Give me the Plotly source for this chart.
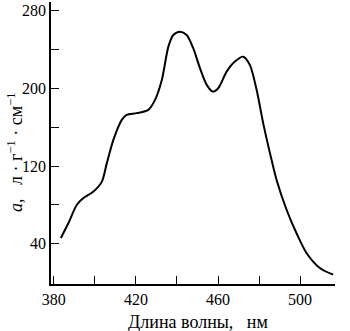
import plotly.graph_objects as go

# Wavelength (nm) and absorptivity a (l·g^-1·cm^-1)
wavelength = [383.4, 387.1, 391.2, 394.4, 399.3, 403.4, 405.8, 409.0, 413.1, 415.5,
              420.4, 426.0, 429.3, 432.6, 435.8, 438.2, 441.5, 444.7, 447.9, 451.2,
              454.5, 457.4, 460.1, 464.2, 468.2, 472.3, 475.5, 478.8, 482.0, 485.3,
              488.5, 493.4, 498.2, 503.1, 509.6, 516.1]
absorptivity = [45.9, 61.3, 80.1, 87.0, 93.8, 104.0, 123.0, 147.0, 167.6, 172.7,
                174.5, 177.9, 188.2, 208.7, 243.0, 255.0, 258.4, 255.0, 241.4, 220.8,
                203.6, 196.7, 200.2, 217.3, 227.6, 232.7, 224.2, 198.5, 164.2, 133.3,
                105.9, 75.0, 51.0, 30.5, 15.0, 8.1]

x_tickvals = [380, 420, 460, 500]
x_minorvals = [400, 440, 480]
y_tickvals = [40, 120, 200, 280]
y_minorvals = [80, 160, 240]

FONT = "Liberation Serif"
NB = "\u00a0"

fig = go.Figure()
fig.add_trace(go.Scatter(
    x=wavelength, y=absorptivity, mode="lines",
    line=dict(color="black", width=2, shape="spline", smoothing=0.8),
    hoverinfo="skip", showlegend=False,
))

axis_common = dict(
    showgrid=False, zeroline=False, showline=True, linecolor="black", linewidth=1.5,
    ticks="inside", ticklen=8, tickwidth=1.2, tickcolor="black",
    tickfont=dict(family=FONT, size=16, color="black"),
    mirror=False,
)

fig.update_layout(
    width=350, height=331,
    margin=dict(l=51, r=15, t=2, b=47),
    paper_bgcolor="white", plot_bgcolor="white",
    xaxis=dict(range=[378.6, 517], tickmode="array", tickvals=x_tickvals,
               minor=dict(tickmode="array", tickvals=x_minorvals, ticks="inside",
                          ticklen=8, tickwidth=1.2, tickcolor="black", showgrid=False),
               **axis_common),
    yaxis=dict(range=[-1.5, 289], tickmode="array", tickvals=y_tickvals,
               minor=dict(tickmode="array", tickvals=y_minorvals, ticks="inside",
                          ticklen=8, tickwidth=1.2, tickcolor="black", showgrid=False),
               **axis_common),
    annotations=[
        dict(text="Длина волны," + NB * 3 + "нм", xref="paper", yref="paper",
             x=0.518, y=-0.133, xanchor="center", yanchor="middle",
             showarrow=False, font=dict(family=FONT, size=18, color="black")),
        dict(text="<i>a</i>," + NB * 3 + "л" + NB + "·" + NB + "г<sup>−1</sup>" + NB + "·" + NB
                  + "см<sup>−1</sup>",
             xref="paper", yref="paper", x=-0.1747, y=0.468,
             xanchor="left", yanchor="middle", textangle=-90,
             showarrow=False, font=dict(family=FONT, size=18, color="black")),
    ],
)

fig.write_html("out.html", post_script="document.body.style.margin='0';",
               config={"displayModeBar": False})
